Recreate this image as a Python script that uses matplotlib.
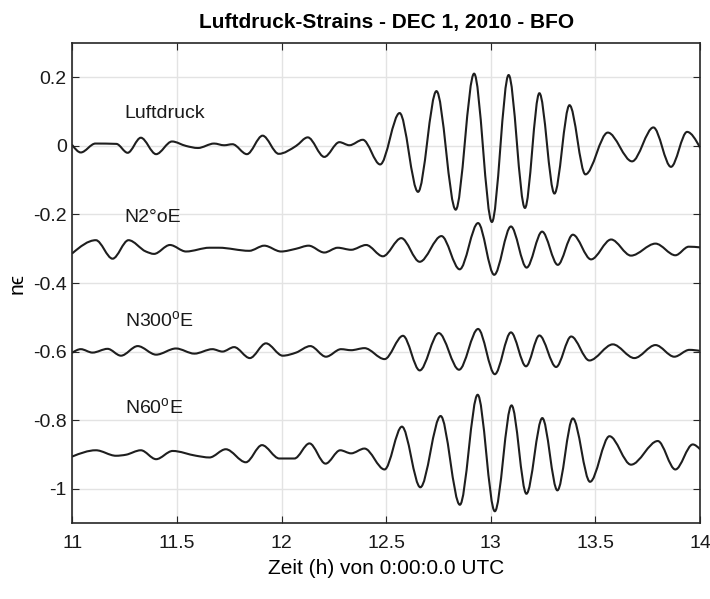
"""
Luftdruck-Strains, 1 Dec 2010, BFO: air pressure and three strain
components, stacked with offsets, 11-14 h UTC.
"""

import matplotlib
matplotlib.use("Agg")
import matplotlib.pyplot as plt
import numpy as np
from matplotlib.path import Path
from matplotlib.patches import PathPatch

# --- data (turning points, time in h) ---------------------------------
LUFT_T = [11.00, 11.04, 11.11, 11.21, 11.264, 11.327, 11.40, 11.476, 11.543,
          11.60, 11.677, 11.725, 11.765, 11.834, 11.909, 11.986, 12.069,
          12.125, 12.204, 12.276, 12.324, 12.388, 12.471, 12.564, 12.652,
          12.740, 12.832, 12.920, 13.005, 13.085, 13.163, 13.232, 13.304,
          13.376, 13.452, 13.559, 13.675, 13.777, 13.861, 13.938, 14.00]
LUFT_V = [0.002, -0.019, 0.007, 0.006, -0.020, 0.024, -0.024, 0.013, 0.0,
          -0.006, 0.007, 0.002, 0.005, -0.024, 0.030, -0.023, 0.0,
          0.025, -0.032, 0.011, 0.002, 0.018, -0.054, 0.096, -0.134,
          0.160, -0.186, 0.211, -0.222, 0.207, -0.181, 0.154, -0.139,
          0.119, -0.083, 0.039, -0.045, 0.054, -0.061, 0.041, -0.005]

N2_T = [11.00, 11.112, 11.192, 11.268, 11.351, 11.39, 11.466, 11.543, 11.655,
        11.70, 11.845, 11.917, 11.997, 12.069, 12.129, 12.204, 12.268,
        12.332, 12.404, 12.484, 12.572, 12.66, 12.764, 12.851, 12.939,
        13.016, 13.096, 13.171, 13.245, 13.32, 13.392, 13.479, 13.575,
        13.67, 13.787, 13.882, 13.946, 14.00]
N2_V = [-0.313, -0.275, -0.329, -0.275, -0.308, -0.315, -0.289, -0.308, -0.297,
        -0.297, -0.306, -0.291, -0.308, -0.300, -0.291, -0.311, -0.297,
        -0.303, -0.289, -0.322, -0.269, -0.338, -0.263, -0.360, -0.225,
        -0.376, -0.235, -0.355, -0.250, -0.347, -0.259, -0.331, -0.273,
        -0.320, -0.285, -0.319, -0.294, -0.296]

N300_T = [11.00, 11.04, 11.096, 11.168, 11.232, 11.312, 11.40, 11.495, 11.583,
          11.669, 11.717, 11.773, 11.848, 11.925, 12.005, 12.069, 12.137,
          12.212, 12.284, 12.332, 12.396, 12.492, 12.58, 12.66, 12.751,
          12.848, 12.939, 13.019, 13.096, 13.168, 13.232, 13.312, 13.384,
          13.471, 13.583, 13.686, 13.787, 13.877, 13.949, 14.00]
N300_V = [-0.603, -0.593, -0.603, -0.592, -0.612, -0.584, -0.609, -0.591, -0.606,
          -0.593, -0.600, -0.587, -0.619, -0.576, -0.612, -0.603, -0.584,
          -0.615, -0.593, -0.596, -0.590, -0.622, -0.554, -0.655, -0.546,
          -0.653, -0.534, -0.666, -0.544, -0.643, -0.553, -0.645, -0.556,
          -0.626, -0.579, -0.619, -0.581, -0.615, -0.595, -0.598]

N60_T = [11.00, 11.112, 11.208, 11.256, 11.327, 11.40, 11.479, 11.591, 11.655,
         11.733, 11.829, 11.906, 11.989, 12.061, 12.133, 12.21, 12.28,
         12.332, 12.396, 12.492, 12.575, 12.663, 12.76, 12.852, 12.937,
         13.019, 13.099, 13.17, 13.246, 13.318, 13.392, 13.474, 13.567,
         13.67, 13.798, 13.882, 13.965, 14.00]
N60_V = [-0.906, -0.888, -0.904, -0.901, -0.888, -0.914, -0.890, -0.904, -0.909,
         -0.885, -0.923, -0.873, -0.912, -0.912, -0.868, -0.927, -0.888,
         -0.897, -0.883, -0.944, -0.819, -0.996, -0.788, -1.047, -0.726,
         -1.066, -0.757, -1.015, -0.794, -1.005, -0.795, -0.980, -0.847,
         -0.930, -0.861, -0.944, -0.871, -0.885]

LABELS = ["Luftdruck", "N2°oE", r"N300$^{\mathrm{o}}$E", r"N60$^{\mathrm{o}}$E"]
LABEL_POS = [(11.25, 0.096), (11.25, -0.209), (11.25, -0.511), (11.25, -0.763)]

XTICKS = [11, 11.5, 12, 12.5, 13, 13.5, 14]
YTICKS = [-1, -0.8, -0.6, -0.4, -0.2, 0, 0.2]

LINE = "#1e1e1e"

plt.rcParams["font.family"] = ["Liberation Sans", "DejaVu Sans"]
plt.rcParams["mathtext.fontset"] = "custom"
plt.rcParams["mathtext.rm"] = "Liberation Sans"
plt.rcParams["axes.unicode_minus"] = False


def smooth_path(x, y):
    """Monotone cubic Bezier path through the points (flat at extrema)."""
    x = np.asarray(x, float)
    y = np.asarray(y, float)
    h = np.diff(x)
    s = np.diff(y) / h
    m = np.zeros_like(y)
    for i in range(1, len(y) - 1):
        if s[i - 1] * s[i] > 0:
            p = (s[i - 1] * h[i] + s[i] * h[i - 1]) / (h[i - 1] + h[i])
            m[i] = np.sign(s[i]) * min(abs(s[i - 1]), abs(s[i]), 0.5 * abs(p)) * 2
    m[0] = (3 * s[0] - m[1]) / 2
    m[-1] = (3 * s[-1] - m[-2]) / 2
    verts = [(x[0], y[0])]
    codes = [Path.MOVETO]
    for i in range(len(h)):
        d = h[i] / 3
        verts += [(x[i] + d, y[i] + m[i] * d),
                  (x[i + 1] - d, y[i + 1] - m[i + 1] * d),
                  (x[i + 1], y[i + 1])]
        codes += [Path.CURVE4] * 3
    return Path(verts, codes)


fig = plt.figure(figsize=(7.10, 5.99), dpi=100)
ax = fig.add_axes([0.102, 0.127, 0.884, 0.801])

for t, v in [(LUFT_T, LUFT_V), (N2_T, N2_V), (N300_T, N300_V), (N60_T, N60_V)]:
    ax.add_patch(PathPatch(smooth_path(t, v), fill=False, edgecolor=LINE,
                           lw=1.5, capstyle="round", joinstyle="round"))

for text, (x, y) in zip(LABELS, LABEL_POS):
    ax.text(x, y, text, fontsize=14, ha="left", va="center", color="#1a1a1a")

ax.set_xlim(11, 14)
ax.set_ylim(-1.1, 0.3)
ax.set_xticks(XTICKS)
ax.set_xticklabels(["11", "11.5", "12", "12.5", "13", "13.5", "14"])
ax.set_yticks(YTICKS)
ax.set_yticklabels(["-1", "-0.8", "-0.6", "-0.4", "-0.2", "0", "0.2"])
ax.tick_params(direction="in", top=True, right=True, length=5,
               labelsize=14, color="#262626", labelcolor="#1a1a1a")
ax.tick_params(axis="x", pad=9)
ax.tick_params(axis="y", pad=4)
ax.grid(True, color="#e3e3e3", lw=1.0)
ax.set_axisbelow(True)
for sp in ax.spines.values():
    sp.set_color("#262626")
    sp.set_linewidth(1.2)

ax.set_title("Luftdruck-Strains - DEC 1, 2010 - BFO", fontsize=15,
             fontweight="bold", pad=11)
ax.set_xlabel("Zeit (h) von 0:00:0.0 UTC", fontsize=15, labelpad=5)
ax.set_ylabel("nϵ", fontsize=15, labelpad=5)

fig.savefig("out.png", dpi=100)
